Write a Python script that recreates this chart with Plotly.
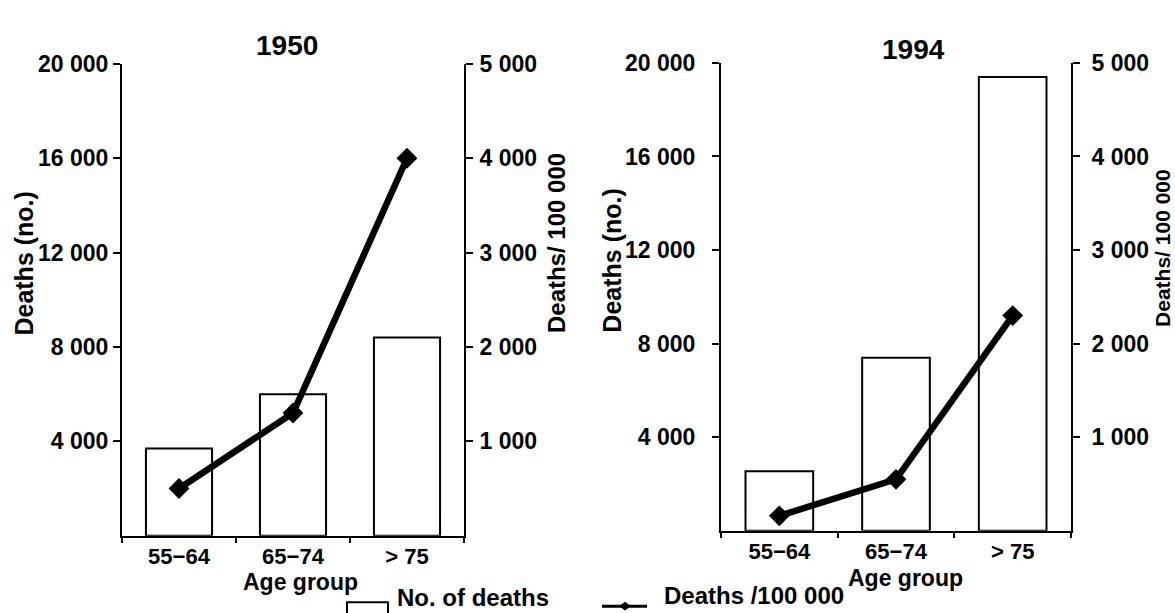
import plotly.graph_objects as go

# ---------------- data ----------------
age_groups = ["55−64", "65−74", "> 75"]
deaths_1950 = [3700, 6000, 8400]          # number of deaths (left axis)
rate_1950 = [500, 1300, 4000]             # deaths / 100 000 (right axis)
deaths_1994 = [2550, 7400, 19400]
rate_1994 = [160, 550, 2300]

left_ticks = [4000, 8000, 12000, 16000, 20000]
left_ticktext = ["4 000", "8 000", "12 000", "16 000", "20 000"]
right_ticks = [1000, 2000, 3000, 4000, 5000]
right_ticktext = ["1 000", "2 000", "3 000", "4 000", "5 000"]

panel_titles = ["1950", "1994"]
y_title = "Deaths (no.)"
y2_title = "Deaths/ 100 000"
x_title = "Age group"
legend_bar = "No. of deaths"
legend_line = "Deaths /100 000"

W, H = 1175, 613
FONT = "Liberation Sans, Arial, Helvetica, sans-serif"


def px(x):
    return x / W


def py(y):
    return 1 - y / H


fig = go.Figure()

bar_style = dict(marker=dict(color="white", line=dict(color="black", width=2)), width=0.58,
                 showlegend=False)
line_style = dict(mode="lines+markers", line=dict(color="black", width=6.5),
                  marker=dict(symbol="diamond", size=16, color="black"), showlegend=False)

fig.add_trace(go.Bar(x=age_groups, y=deaths_1950, xaxis="x", yaxis="y", **bar_style))
fig.add_trace(go.Scatter(x=age_groups, y=rate_1950, xaxis="x", yaxis="y2", **line_style))
fig.add_trace(go.Bar(x=age_groups, y=deaths_1994, xaxis="x2", yaxis="y3", **bar_style))
fig.add_trace(go.Scatter(x=age_groups, y=rate_1994, xaxis="x2", yaxis="y4", **line_style))

tickfont = dict(family=FONT, size=23, color="black", weight="bold")
xtickfont = dict(family=FONT, size=22, color="black", weight="bold")

xcommon = dict(type="category", range=[-0.5, 2.5], tickson="boundaries", ticks="outside",
               ticklen=5, tickwidth=2, tickcolor="black", showline=True, linecolor="black",
               linewidth=2, showgrid=False, zeroline=False, tickfont=xtickfont, fixedrange=True)
ycommon = dict(showline=True, linecolor="black", linewidth=2, ticks="outside", ticklen=7,
               tickwidth=2, tickcolor="black", showgrid=False, zeroline=False,
               tickfont=tickfont, fixedrange=True)

fig.update_layout(
    width=W, height=H,
    margin=dict(l=0, r=0, t=0, b=0),
    paper_bgcolor="white", plot_bgcolor="white",
    font=dict(family=FONT, color="black"),
    xaxis=dict(domain=[px(122), px(464)], anchor="y", **xcommon),
    yaxis=dict(domain=[py(534), py(52)], anchor="x", range=[0, 20000],
               tickvals=left_ticks, ticktext=left_ticktext, ticklabelstandoff=0, **ycommon),
    yaxis2=dict(overlaying="y", side="right", anchor="x", range=[0, 5000],
                tickvals=right_ticks, ticktext=right_ticktext, ticklabelstandoff=2, **ycommon),
    xaxis2=dict(domain=[px(721), px(1071)], anchor="y3", **xcommon),
    yaxis3=dict(domain=[py(529), py(51)], anchor="x2", range=[0, 20000],
                tickvals=left_ticks, ticktext=left_ticktext, ticklabelstandoff=12, **ycommon),
    yaxis4=dict(overlaying="y3", side="right", anchor="x2", range=[0, 5000],
                tickvals=right_ticks, ticktext=right_ticktext, ticklabelstandoff=7, **ycommon),
)

ann = []


def text(x, y, s, size=22, angle=0, xanchor="center", yanchor="middle"):
    ann.append(dict(x=px(x), y=py(y), xref="paper", yref="paper", text=s, showarrow=False,
                    textangle=angle, xanchor=xanchor, yanchor=yanchor,
                    font=dict(family=FONT, size=size, color="black", weight="bold")))


# panel titles
text(287, 33, panel_titles[0], size=28)
text(913, 37, panel_titles[1], size=28)
# y axis titles
text(24, 256, y_title, size=25, angle=-90)
text(612, 253, y_title, size=25, angle=-90)
text(556, 235, y2_title, size=24, angle=-90)
text(1163, 240, y2_title, size=21, angle=-90)
# x axis titles
text(300, 581, x_title, size=23)
text(905, 577, x_title, size=23)
# legend texts
text(395, 613, legend_bar, size=24, xanchor="left", yanchor="bottom")
text(662, 611, legend_line, size=24, xanchor="left", yanchor="bottom")

fig.update_layout(annotations=ann)

# legend keys
shapes = [
    dict(type="rect", xref="paper", yref="paper", x0=px(347), x1=px(388), y0=py(625), y1=py(602),
         line=dict(color="black", width=2), fillcolor="white"),
    dict(type="line", xref="paper", yref="paper", x0=px(602), x1=px(647), y0=py(606), y1=py(606),
         line=dict(color="black", width=3)),
    dict(type="path", xref="paper", yref="paper",
         path=f"M {px(620)},{py(606)} L {px(625)},{py(602)} L {px(630)},{py(606)} L {px(625)},{py(610)} Z",
         fillcolor="black", line=dict(color="black", width=1)),
]
fig.update_layout(shapes=shapes)

fig.write_html("out.html")
